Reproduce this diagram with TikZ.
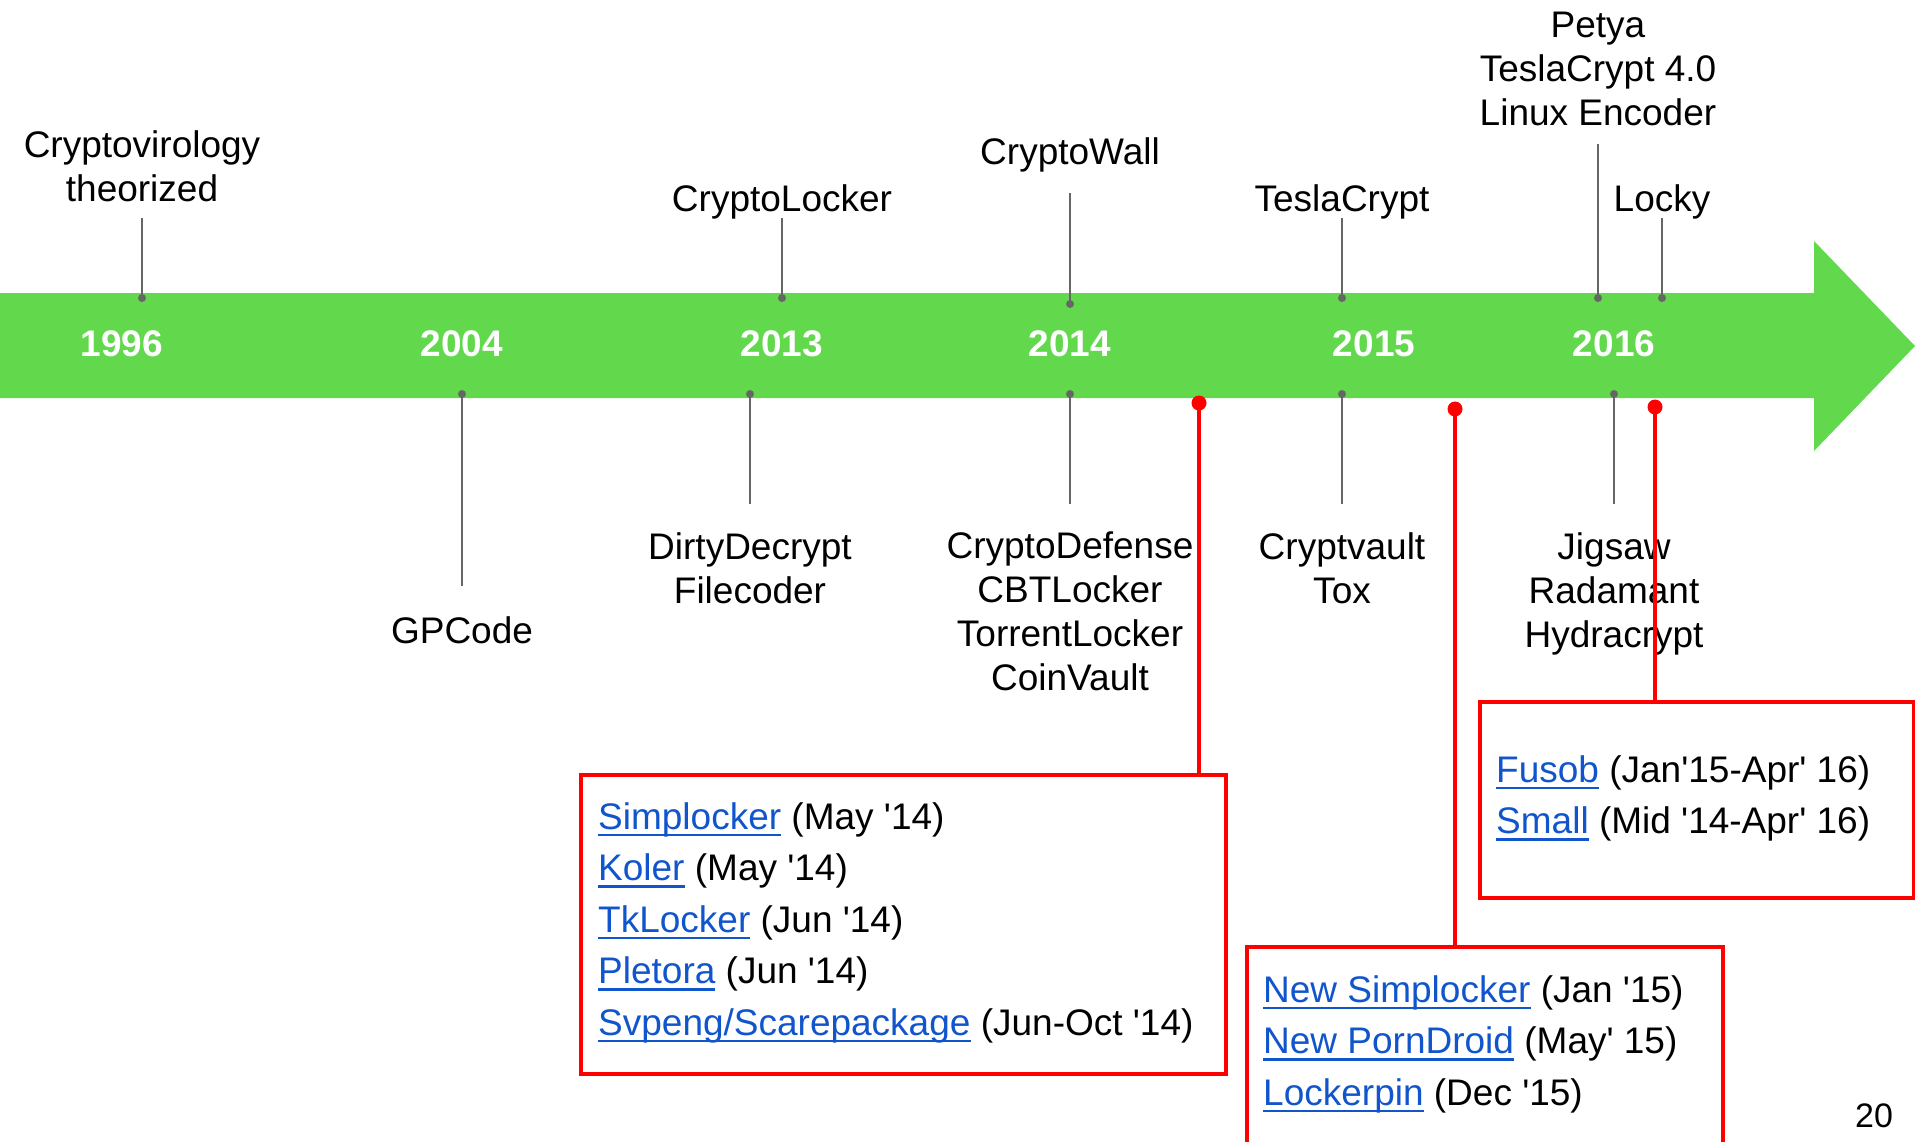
\documentclass[tikz,border=0pt]{standalone}
\usepackage{fontspec}
\setmainfont{Liberation Sans}[Ligatures=TeXOff]
\definecolor{band}{RGB}{98,216,76}
\definecolor{tickgray}{RGB}{102,102,102}
\definecolor{linkblue}{RGB}{17,85,204}
% underlined hyperlink-style text with a fixed underline offset
\newcommand\weblink[1]{{\color{linkblue}\setbox0\hbox{#1}\rlap{\vrule width\wd0 height -4.5pt depth 7pt}\box0}}
\tikzset{
  lbl/.style={font=\fontsize{37}{44}\selectfont, align=center, inner sep=0pt, anchor=north},
  yr/.style={font=\fontsize{37}{44}\selectfont\bfseries, text=white, inner sep=0pt, anchor=base},
  tick/.style={draw=tickgray, line width=2pt},
  tdot/.style={circle, fill=tickgray, inner sep=0pt, minimum size=8pt},
  rdot/.style={circle, fill=red, inner sep=0pt, minimum size=15pt},
  rline/.style={draw=red, line width=4pt},
  rbox/.style={draw=red, line width=4pt, inner sep=0pt, anchor=north west},
  items/.style={font=\fontsize{37}{51.5}\selectfont, align=left, inner sep=0pt, anchor=north west},
}
\begin{document}
\begin{tikzpicture}[x=1pt, y=-1pt]
\useasboundingbox (0,0) rectangle (1915,1141);
\clip (0,0) rectangle (1915,1141);

% timeline band with arrow head
\fill[band] (0,293) -- (1814,293) -- (1814,241) -- (1915,346) -- (1814,451) -- (1814,398) -- (0,398) -- cycle;

% years
\node[yr] (y1996) at (122,356) {1996};
\node[yr] (y2004) at (462,356) {2004};
\node[yr] (y2013) at (782,356) {2013};
\node[yr] (y2014) at (1070,356) {2014};
\node[yr] (y2015) at (1374,356) {2015};
\node[yr] (y2016) at (1614,356) {2016};

% events above the band
\node[lbl] (cv) at (142,130) {Cryptovirology\\theorized};
\node[lbl] (clock) at (782,184) {CryptoLocker};
\node[lbl] (cwall) at (1070,137) {CryptoWall};
\node[lbl] (tesla) at (1342,184) {TeslaCrypt};
\node[lbl] (petya) at (1598,12) {Petya\\TeslaCrypt 4.0\\Linux Encoder};
\node[lbl] (locky) at (1662,184) {Locky};

\coordinate (tcv) at (142,218);   \node[tdot] (dcv) at (142,298) {};
\coordinate (tclock) at (782,218); \node[tdot] (dclock) at (782,298) {};
\coordinate (tcwall) at (1070,193); \node[tdot] (dcwall) at (1070,304) {};
\coordinate (ttesla) at (1342,218); \node[tdot] (dtesla) at (1342,298) {};
\coordinate (tpetya) at (1598,144); \node[tdot] (dpetya) at (1598,298) {};
\coordinate (tlocky) at (1662,218); \node[tdot] (dlocky) at (1662,298) {};

\draw[tick] (tcv) -- (dcv.center);
\draw[tick] (tclock) -- (dclock.center);
\draw[tick] (tcwall) -- (dcwall.center);
\draw[tick] (ttesla) -- (dtesla.center);
\draw[tick] (tpetya) -- (dpetya.center);
\draw[tick] (tlocky) -- (dlocky.center);

% events below the band
\node[lbl] (gpc) at (462,616) {GPCode};
\node[lbl] (dirty) at (750,532) {DirtyDecrypt\\Filecoder};
\node[lbl] (cdef) at (1070,532) {CryptoDefense\\CBTLocker\\TorrentLocker\\CoinVault};
\node[lbl] (cvault) at (1342,532) {Cryptvault\\Tox};
\node[lbl] (jig) at (1614,532) {Jigsaw\\Radamant\\Hydracrypt};

\node[tdot] (dgpc) at (462,394) {};    \coordinate (bgpc) at (462,586);
\node[tdot] (ddirty) at (750,394) {};  \coordinate (bdirty) at (750,504);
\node[tdot] (dcdef) at (1070,394) {};  \coordinate (bcdef) at (1070,504);
\node[tdot] (dcvault) at (1342,394) {}; \coordinate (bcvault) at (1342,504);
\node[tdot] (djig) at (1614,394) {};   \coordinate (bjig) at (1614,504);

\draw[tick] (dgpc.center) -- (bgpc);
\draw[tick] (ddirty.center) -- (bdirty);
\draw[tick] (dcdef.center) -- (bcdef);
\draw[tick] (dcvault.center) -- (bcvault);
\draw[tick] (djig.center) -- (bjig);

% mobile ransomware boxes
\node[rbox, minimum width=645pt, minimum height=299pt] (box1) at (579,773) {};
\node[rbox, minimum width=476pt, minimum height=215pt] (box2) at (1245,945) {};
\node[rbox, minimum width=434pt, minimum height=196pt] (box3) at (1478,700) {};

\node[items] (list1) at (598,802) {%
\weblink{Simplocker} (May '14)\\
\weblink{Koler} (May '14)\\
\weblink{TkLocker} (Jun '14)\\
\weblink{Pletora} (Jun '14)\\
\weblink{Svpeng/Scarepackage} (Jun-Oct '14)};
\node[items] (list2) at (1263,975) {%
\weblink{New Simplocker} (Jan '15)\\
\weblink{New PornDroid} (May' 15)\\
\weblink{Lockerpin} (Dec '15)};
\node[items] (list3) at (1496,755) {%
\weblink{Fusob} (Jan'15-Apr' 16)\\
\weblink{Small} (Mid '14-Apr' 16)};

% red markers on the band and their leaders
\node[rdot] (r1) at (1199,403) {};
\node[rdot] (r2) at (1455,409) {};
\node[rdot] (r3) at (1655,407) {};
\draw[rline] (r1.center) -- (r1.center |- box1.north);
\draw[rline] (r2.center) -- (r2.center |- box2.north);
\draw[rline] (r3.center) -- (r3.center |- box3.north);

% page number
\node[font=\fontsize{34}{40}\selectfont, inner sep=0pt, anchor=base] (pnum) at (1874,1127) {20};
\end{tikzpicture}
\end{document}
